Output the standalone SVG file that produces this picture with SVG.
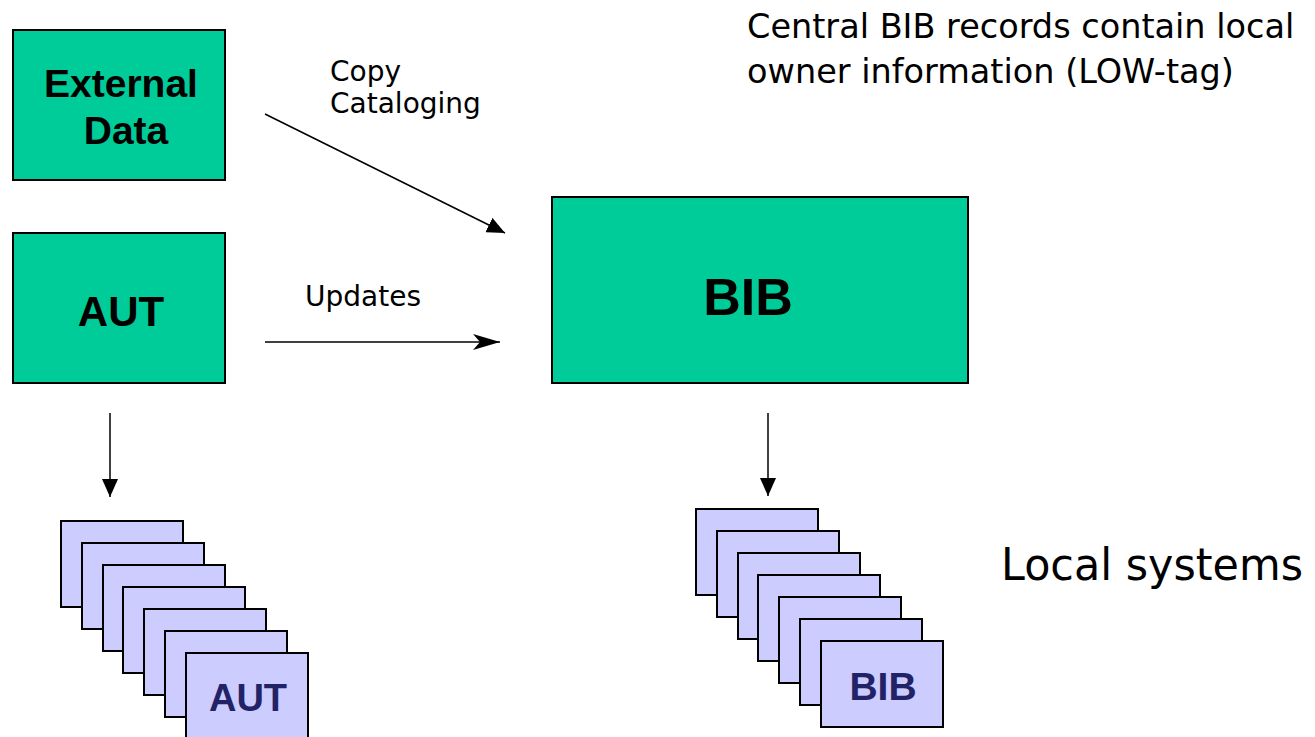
<svg xmlns="http://www.w3.org/2000/svg" width="1315" height="737" viewBox="0 0 1315 737">
  <style>
    .box { fill: #00cc99; stroke: #000; stroke-width: 2; }
    .card { fill: #ccccff; stroke: #000; stroke-width: 2; }
    .bold { font-family: "Liberation Sans", Arial, sans-serif; font-weight: bold; text-anchor: middle; fill: #000; }
    .cardtxt { font-family: "Liberation Sans", Arial, sans-serif; font-weight: bold; text-anchor: middle; fill: #222266; }
    .reg { font-family: "DejaVu Sans", Verdana, sans-serif; fill: #000; }
    .conn { stroke: #000; stroke-width: 1.5; fill: none; }
  </style>
  <defs>
    <marker id="tri" viewBox="0 0 18 16" refX="18" refY="8" markerWidth="18" markerHeight="16" markerUnits="userSpaceOnUse" orient="auto">
      <path d="M0,0 L18,8 L0,16 z" fill="#000"/>
    </marker>
    <marker id="stealth" viewBox="0 0 27 16" refX="27" refY="8" markerWidth="27" markerHeight="16" markerUnits="userSpaceOnUse" orient="auto">
      <path d="M0,0 L27,8 L0,16 L7,8 z" fill="#000"/>
    </marker>
  </defs>

  <g id="external-data">
    <rect class="box" x="13" y="30" width="212" height="150"/>
    <text class="bold" x="121" y="97" font-size="39">External</text>
    <text class="bold" x="126" y="144" font-size="39">Data</text>
  </g>

  <g id="aut">
    <rect class="box" x="13" y="233" width="212" height="150"/>
    <text class="bold" x="121" y="326" font-size="42">AUT</text>
  </g>

  <g id="bib">
    <rect class="box" x="552" y="197" width="416" height="186"/>
    <text class="bold" x="748" y="315" font-size="52">BIB</text>
  </g>

  <g id="connectors">
    <line class="conn" x1="265" y1="114" x2="505" y2="233" marker-end="url(#tri)"/>
    <line class="conn" x1="265" y1="342" x2="500" y2="342" marker-end="url(#stealth)"/>
    <line class="conn" x1="110" y1="413" x2="110" y2="497" marker-end="url(#tri)"/>
    <line class="conn" x1="768" y1="413" x2="768" y2="496" marker-end="url(#tri)"/>
  </g>

  <g id="labels">
    <text class="reg" x="330" y="81" font-size="28">Copy</text>
    <text class="reg" x="330" y="113" font-size="28">Cataloging</text>
    <text class="reg" x="305" y="306" font-size="28">Updates</text>
    <text class="reg" x="747" y="38" font-size="33.5">Central BIB records contain local</text>
    <text class="reg" x="747" y="83" font-size="33.5">owner information (LOW-tag)</text>
    <text class="reg" x="1001" y="580" font-size="44" textLength="302" lengthAdjust="spacingAndGlyphs">Local systems</text>
  </g>

  <g id="aut-local-stack">
    <rect id="aut-card-1" class="card" x="61" y="521" width="122" height="86"/>
    <rect id="aut-card-2" class="card" x="82" y="543" width="122" height="86"/>
    <rect id="aut-card-3" class="card" x="103" y="565" width="122" height="86"/>
    <rect id="aut-card-4" class="card" x="123" y="587" width="122" height="86"/>
    <rect id="aut-card-5" class="card" x="144" y="609" width="122" height="86"/>
    <rect id="aut-card-6" class="card" x="165" y="631" width="122" height="86"/>
    <g id="aut-card-7"><rect class="card" x="186" y="653" width="122" height="86"/><text class="cardtxt" x="248" y="711" font-size="38">AUT</text></g>
  </g>

  <g id="bib-local-stack">
    <rect id="bib-card-1" class="card" x="696" y="509" width="122" height="86"/>
    <rect id="bib-card-2" class="card" x="717" y="531" width="122" height="86"/>
    <rect id="bib-card-3" class="card" x="738" y="553" width="122" height="86"/>
    <rect id="bib-card-4" class="card" x="758" y="575" width="122" height="86"/>
    <rect id="bib-card-5" class="card" x="779" y="597" width="122" height="86"/>
    <rect id="bib-card-6" class="card" x="800" y="619" width="122" height="86"/>
    <g id="bib-card-7"><rect class="card" x="821" y="641" width="122" height="86"/><text class="cardtxt" x="883" y="700" font-size="39">BIB</text></g>
  </g>
</svg>
